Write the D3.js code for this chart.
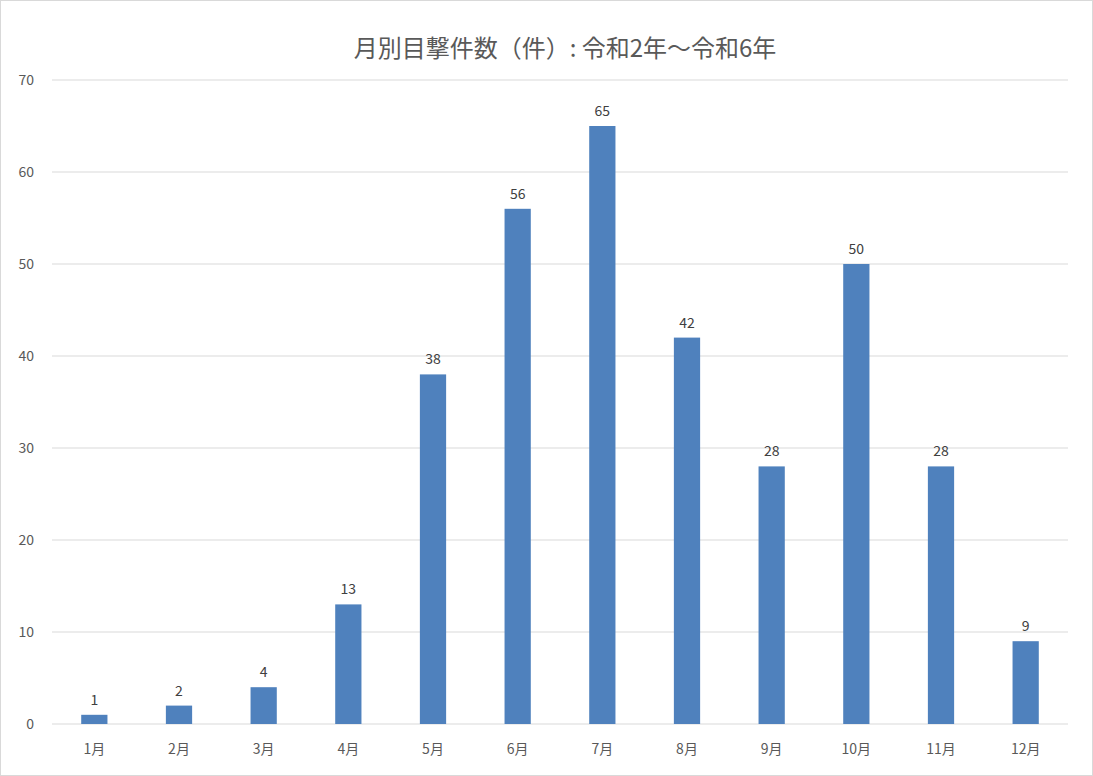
<!DOCTYPE html>
<html><head><meta charset="utf-8">
<script src="https://cdn.jsdelivr.net/npm/d3@7"></script>
<style>body{margin:0;background:#fff}</style></head>
<body><svg id="c" width="1093" height="776"></svg>
<script>
const categories=["1月","2月","3月","4月","5月","6月","7月","8月","9月","10月","11月","12月"];
const values=[1,2,4,13,38,56,65,42,28,50,28,9];
const yTicks=[0,10,20,30,40,50,60,70];
const title="月別目撃件数（件）: 令和2年～令和6年";
const svg=d3.select("#c");
const font="'Noto Sans CJK JP','Noto Sans',sans-serif";
svg.append("rect").attr("x",0.5).attr("y",0.5).attr("width",1092).attr("height",775).attr("fill","#fff").attr("stroke","#d9d9d9");
const x=d3.scaleBand().domain(categories).range([52,1068]).paddingInner(0.69).paddingOuter(0.345);
const y=d3.scaleLinear().domain([0,70]).range([724,80]);
svg.append("g").selectAll("line").data(yTicks).join("line")
 .attr("x1",52).attr("x2",1068).attr("y1",d=>y(d)).attr("y2",d=>y(d)).attr("stroke","#d9d9d9");
svg.append("g").selectAll("text").data(yTicks).join("text")
 .attr("x",34).attr("y",d=>y(d)+5).attr("text-anchor","end").attr("font-size",14).attr("fill","#595959").attr("font-family",font).text(d=>d);
svg.append("g").selectAll("rect").data(values).join("rect")
 .attr("x",(d,i)=>x(categories[i])).attr("width",x.bandwidth()).attr("y",d=>y(d)).attr("height",d=>y(0)-y(d)).attr("fill","#4f81bd");
svg.append("g").selectAll("text").data(values).join("text")
 .attr("x",(d,i)=>x(categories[i])+x.bandwidth()/2).attr("y",d=>y(d)-10).attr("text-anchor","middle").attr("font-size",14).attr("fill","#404040").attr("font-family",font).text(d=>d);
svg.append("g").selectAll("text").data(categories).join("text")
 .attr("x",d=>x(d)+x.bandwidth()/2).attr("y",754).attr("text-anchor","middle").attr("font-size",14).attr("fill","#595959").attr("font-family",font).text(d=>d);
svg.append("text").attr("x",565).attr("y",57).attr("text-anchor","middle").attr("font-size",24).attr("fill","#595959").attr("font-family",font).text(title);
</script></body></html>
